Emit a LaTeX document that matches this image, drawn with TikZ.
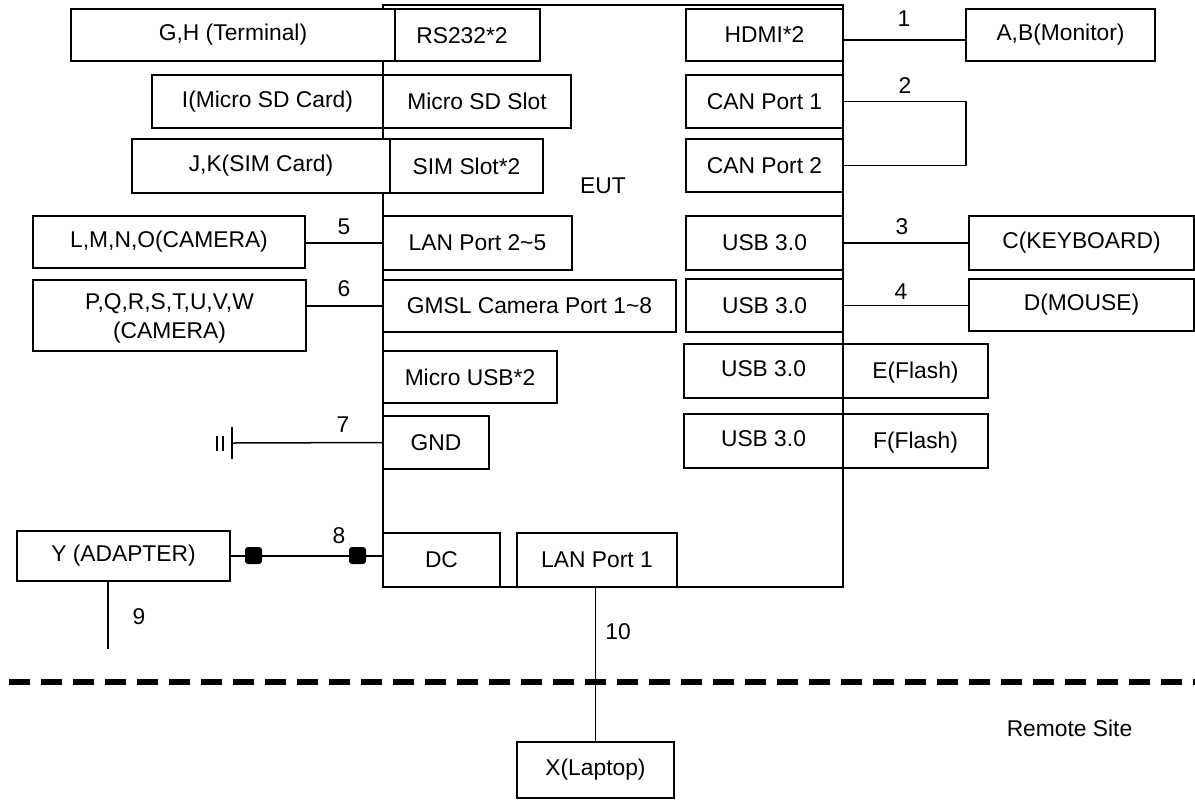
\documentclass[tikz,border=0pt]{standalone}
\usepackage{fontspec}
\setmainfont{Liberation Sans}
\usetikzlibrary{calc}
\newcommand{\bx}[6]{%
  \node[bx, minimum width={(#4-#2)*0.5pt}, minimum height={(#5-#3)*0.5pt}] (#1) at ({(#2+#4)/2},{(#3+#5)/2}) {#6};}
\begin{document}
\begin{tikzpicture}[x=0.5pt,y=-0.5pt, line width=0.75pt,
  font=\fontsize{11.4}{13.5}\selectfont,
  bx/.style={draw, fill=white, inner sep=0pt},
  lbl/.style={inner sep=0pt},
  sq/.style={fill=black, draw=none, minimum width=8.5pt, minimum height=8.5pt, inner sep=0pt, rounded corners=1.5pt}]
\useasboundingbox (0,0) rectangle (1195,800);

% EUT frame
\node[draw, minimum width=230pt, minimum height=291pt, inner sep=0pt] (eut) at (613,296) {};
\node[lbl] (eutl) at (603,186) {EUT};

% left side
\bx{gh}{71}{9}{395}{61}{G,H (Terminal)}
\bx{rs}{395}{9}{540}{61}{}
\node[lbl] (rst) at (462,36) {RS232*2};
\bx{sd}{152}{75}{383}{128}{I(Micro SD Card)}
\bx{sds}{383}{75}{571}{128}{Micro SD Slot}
\bx{jk}{132}{139}{390}{193}{J,K(SIM Card)}
\bx{sim}{390}{139}{543}{193}{SIM Slot*2}
\bx{lmno}{33}{216}{305}{268}{L,M,N,O(CAMERA)}
\bx{lan25}{383}{216}{572}{270}{LAN Port 2\textasciitilde5}
\bx{pw}{33}{280}{306}{351}{}
\node[lbl, align=center, font=\fontsize{11.4}{14.5}\selectfont] (pwt) at (169.5,318.5) {P,Q,R,S,T,U,V,W\\(CAMERA)};
\bx{gmsl}{383}{280}{676}{332}{GMSL Camera Port 1\textasciitilde8}
\bx{musb}{383}{351}{557}{403}{Micro USB*2}
\bx{gnd}{383}{416}{489}{469}{GND}
\bx{dc}{383}{533}{500}{587}{DC}
\bx{lan1}{517}{533}{677}{587}{LAN Port 1}
\bx{ada}{17}{531}{230}{581}{Y (ADAPTER)}
\bx{lap}{517}{742}{674}{798}{X(Laptop)}

% right side
\bx{hdmi}{686}{9}{843}{61}{HDMI*2}
\bx{ab}{966}{9}{1155}{61}{A,B(Monitor)}
\bx{can1}{686}{75}{843}{128}{CAN Port 1}
\bx{can2}{686}{139}{843}{192}{CAN Port 2}
\bx{usb1}{686}{216}{843}{270}{USB 3.0}
\bx{kb}{969}{216}{1194}{270}{C(KEYBOARD)}
\bx{usb2}{686}{279}{843}{332}{USB 3.0}
\bx{ms}{969}{279}{1194}{331}{D(MOUSE)}
\bx{usb3}{684}{344}{843}{398}{}
\node[lbl] (usb3t) at (763.5,368.5) {USB 3.0};
\bx{ef}{843}{344}{988}{398}{}
\node[lbl] (eft) at (915.5,373) {E(Flash)};
\bx{usb4}{684}{414}{843}{468}{}
\node[lbl] (usb4t) at (763.5,438.5) {USB 3.0};
\bx{ff}{843}{414}{988}{468}{}
\node[lbl] (fft) at (915.5,443) {F(Flash)};

% connectors
\draw ([yshift=-2.5pt]hdmi.east) -- ([yshift=-2.5pt]ab.west);
\node[lbl] (n1) at (904,19) {1};
\draw (can1.east) -- ++(122,0) |- (can2.east);
\node[lbl] (n2) at (905,86) {2};
\draw (usb1.east) -- (usb1.east -| kb.west);
\node[lbl] (n3) at (902,227) {3};
\draw (usb2.east) -- (usb2.east -| ms.west);
\node[lbl] (n4) at (901,292) {4};
\draw (lan25.west) -- (lan25.west -| lmno.east);
\node[lbl] (n5) at (344,227) {5};
\draw (gmsl.west) -- (gmsl.west -| pw.east);
\node[lbl] (n6) at (344,289) {6};

% ground
\coordinate (g) at (232,443);
\draw (gnd.west) -- (g);
\draw[line width=1.3pt] ([yshift=8pt]g) -- ([yshift=-8pt]g);
\draw[line width=1pt] ([xshift=-7.5pt,yshift=3.75pt]g) -- ([xshift=-7.5pt,yshift=-3.75pt]g);
\draw[line width=1pt] ([xshift=-4.5pt,yshift=3.75pt]g) -- ([xshift=-4.5pt,yshift=-3.75pt]g);
\node[lbl] (n7) at (343,425) {7};

% DC
\draw (ada.east) -- (ada.east -| dc.west);
\node[sq] (s1) at (253.5,555.5) {};
\node[sq] (s2) at (357.5,555.5) {};
\node[lbl] (n8) at (339,536) {8};

% 9
\coordinate (e9) at (108,649);
\draw (ada.south -| e9) -- (e9);
\node[lbl] (n9) at (139,617) {9};

% 10
\draw (lap.north) -- (lap.north |- lan1.south);
\node[lbl] (n10) at (618,632) {10};

% dashed separator
\coordinate (dl) at (9,682);
\coordinate (dr) at (1195,682);
\draw[line width=2.75pt, dash pattern=on 10.5pt off 5.5pt] (dl) -- (dr);
\node[lbl] (rem) at (1069.5,728) {Remote Site};
\end{tikzpicture}
\end{document}
